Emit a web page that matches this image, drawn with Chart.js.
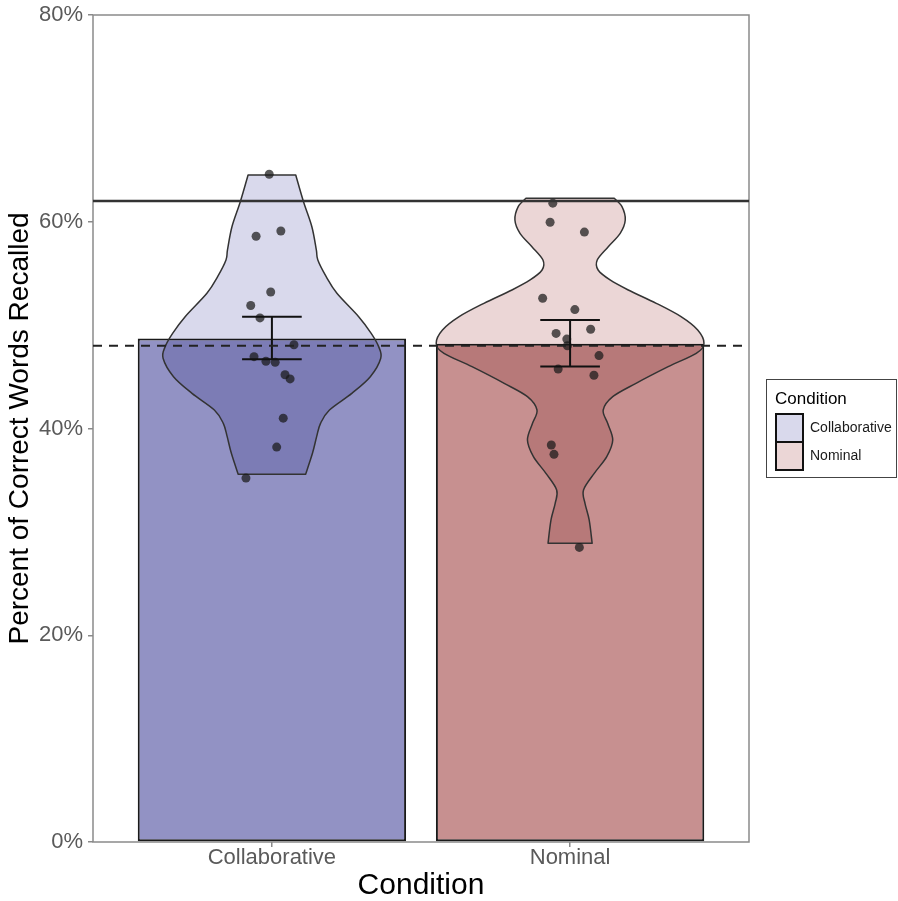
<!DOCTYPE html>
<html>
<head>
<meta charset="utf-8">
<script src="https://cdn.jsdelivr.net/npm/chart.js@4.4.1/dist/chart.umd.min.js"></script>
<style>
  html, body { margin: 0; padding: 0; background: #ffffff; }
  #wrap { width: 898px; height: 901px; }
</style>
</head>
<body>
<div id="wrap"><canvas id="recallChart" width="898" height="901"></canvas></div>
<script>
// ---- data ----
const categories = ['Collaborative', 'Nominal'];
const categoryPos = [1, 2];
const meanRecall = [48.7, 48.2];
const seLow = [46.7, 46.0];
const seHigh = [50.8, 50.5];
const yTicks = [0, 20, 40, 60, 80];
const solidLineValue = 62;
const dashedLineValue = 48;

// individual participants (percent recalled) and their horizontal jitter
const collabScores = [64.6, 58.6, 59.1, 53.2, 51.9, 50.7, 48.1, 46.95, 46.5, 46.4, 45.2, 44.8, 41.0, 38.2, 35.2];
const collabJitter = [-0.009, -0.053, 0.030, -0.004, -0.071, -0.040, 0.074, -0.060, -0.020, 0.011, 0.044, 0.061, 0.038, 0.016, -0.087];
const nominalScores = [61.8, 59.95, 59.0, 52.6, 51.5, 49.2, 49.6, 48.65, 48.0, 47.05, 45.75, 45.15, 38.4, 37.5, 28.5];
const nominalJitter = [-0.058, -0.067, 0.048, -0.092, 0.016, -0.047, 0.069, -0.011, -0.009, 0.097, -0.040, 0.080, -0.063, -0.054, 0.031];

// violin outlines: recall level and half-width (in category units)
const collabViolinY = [64.52, 61.94, 59.52, 57.27, 56.30, 54.69, 53.08, 50.82, 49.21, 47.92, 46.79, 45.01, 43.40, 41.79, 40.50, 39.21, 37.60, 35.57];
const collabViolinHalf = [0.080, 0.106, 0.134, 0.149, 0.154, 0.182, 0.218, 0.291, 0.333, 0.358, 0.365, 0.330, 0.268, 0.193, 0.163, 0.150, 0.136, 0.113];
const nominalViolinY = [62.27, 61.46, 60.17, 58.88, 57.59, 56.30, 55.33, 54.37, 53.40, 52.11, 50.82, 49.53, 48.24, 47.27, 45.98, 44.37, 43.08, 41.79, 40.50, 38.89, 37.28, 35.66, 34.05, 32.76, 31.15, 28.89];
const nominalViolinHalf = [0.148, 0.174, 0.185, 0.168, 0.128, 0.091, 0.094, 0.134, 0.195, 0.289, 0.372, 0.428, 0.449, 0.423, 0.329, 0.221, 0.143, 0.111, 0.126, 0.143, 0.123, 0.081, 0.045, 0.050, 0.064, 0.074];

// ---- styling ----
const barColors = ['#9292C4', '#C79090'];
const violinColors = ['#D9D9EC', '#EBD6D6'];
const FONT = '"Liberation Sans", Arial, Helvetica, sans-serif';
const X_MIN = 0.4, X_MAX = 2.6;
const ERR_HALF = 0.1;

const violins = [
  { center: categoryPos[0], ys: collabViolinY, half: collabViolinHalf, fill: violinColors[0] },
  { center: categoryPos[1], ys: nominalViolinY, half: nominalViolinHalf, fill: violinColors[1] }
];

// error bar segments (null breaks the line between pieces)
const errorBarData = [];
categoryPos.forEach((c, i) => {
  errorBarData.push({ x: c - ERR_HALF, y: seHigh[i] }, { x: c + ERR_HALF, y: seHigh[i] }, { x: c, y: null });
  errorBarData.push({ x: c, y: seHigh[i] }, { x: c, y: seLow[i] }, { x: c, y: null });
  errorBarData.push({ x: c - ERR_HALF, y: seLow[i] }, { x: c + ERR_HALF, y: seLow[i] }, { x: c, y: null });
});

// smooth curve through a list of pixel points (Catmull-Rom as Bezier)
function splineThrough(ctx, pts) {
  for (let i = 0; i < pts.length - 1; i++) {
    const p0 = pts[Math.max(i - 1, 0)];
    const p1 = pts[i];
    const p2 = pts[i + 1];
    const p3 = pts[Math.min(i + 2, pts.length - 1)];
    const c1x = p1.x + (p2.x - p0.x) / 6, c1y = p1.y + (p2.y - p0.y) / 6;
    const c2x = p2.x - (p3.x - p1.x) / 6, c2y = p2.y - (p3.y - p1.y) / 6;
    ctx.bezierCurveTo(c1x, c1y, c2x, c2y, p2.x, p2.y);
  }
}

const backgroundPlugin = {
  id: 'background',
  beforeDraw(chart) {
    const { ctx, width, height } = chart;
    ctx.save();
    ctx.fillStyle = '#ffffff';
    ctx.fillRect(0, 0, width, height);
    ctx.restore();
  }
};

const panelFramePlugin = {
  id: 'panelFrame',
  beforeDatasetsDraw(chart) {
    const { ctx, chartArea: a } = chart;
    ctx.save();
    ctx.strokeStyle = '#8a8a8a';
    ctx.lineWidth = 1.5;
    ctx.strokeRect(a.left, a.top, a.right - a.left, a.bottom - a.top);
    ctx.restore();
  }
};

const violinPlugin = {
  id: 'violins',
  afterDatasetDraw(chart, args) {
    if (args.index !== 0) return;
    const { ctx, chartArea: a, scales: { x, y } } = chart;
    ctx.save();
    ctx.beginPath();
    ctx.rect(a.left, a.top, a.right - a.left, a.bottom - a.top);
    ctx.clip();
    violins.forEach(v => {
      const right = v.ys.map((yy, i) => ({ x: x.getPixelForValue(v.center + v.half[i]), y: y.getPixelForValue(yy) }));
      const left = v.ys.map((yy, i) => ({ x: x.getPixelForValue(v.center - v.half[i]), y: y.getPixelForValue(yy) })).reverse();
      ctx.beginPath();
      ctx.moveTo(right[0].x, right[0].y);
      splineThrough(ctx, right);
      ctx.lineTo(left[0].x, left[0].y);
      splineThrough(ctx, left);
      ctx.closePath();
      ctx.globalCompositeOperation = 'multiply';
      ctx.fillStyle = v.fill;
      ctx.fill();
      ctx.globalCompositeOperation = 'source-over';
      ctx.strokeStyle = '#333333';
      ctx.lineWidth = 1.5;
      ctx.lineJoin = 'round';
      ctx.stroke();
    });
    ctx.restore();
  }
};

const legendPlugin = {
  id: 'conditionLegend',
  afterDraw(chart) {
    const { ctx, chartArea: a } = chart;
    const left = a.right + 17, top = a.top + 364;
    ctx.save();
    ctx.strokeStyle = '#444444';
    ctx.lineWidth = 1;
    ctx.strokeRect(left + 0.5, top + 0.5, 130, 98);
    ctx.fillStyle = '#000000';
    ctx.textBaseline = 'middle';
    ctx.textAlign = 'left';
    ctx.font = '17px ' + FONT;
    ctx.fillText('Condition', left + 9, top + 20);
    ctx.font = '14px ' + FONT;
    categories.forEach((name, i) => {
      const ky = top + 35 + i * 28;
      ctx.fillStyle = violinColors[i];
      ctx.fillRect(left + 10, ky, 27, 28);
      ctx.strokeStyle = '#111111';
      ctx.lineWidth = 2;
      ctx.strokeRect(left + 10, ky, 27, 28);
      ctx.fillStyle = '#1a1a1a';
      ctx.fillText(name, left + 44, ky + 14);
    });
    ctx.restore();
  }
};

new Chart(document.getElementById('recallChart'), {
  data: {
    datasets: [
      {
        type: 'bar',
        label: 'Mean recall',
        data: categoryPos.map((c, i) => ({ x: c, y: meanRecall[i] })),
        backgroundColor: barColors,
        borderColor: '#1a1a1a',
        borderWidth: 2,
        borderSkipped: false,
        categoryPercentage: 0.9,
        barPercentage: 1,
        order: 10
      },
      {
        type: 'scatter',
        label: 'Collaborative participants',
        data: collabScores.map((v, i) => ({ x: categoryPos[0] + collabJitter[i], y: v })),
        backgroundColor: 'rgba(25,25,25,0.72)',
        borderWidth: 0,
        pointRadius: 4.5,
        order: 4
      },
      {
        type: 'scatter',
        label: 'Nominal participants',
        data: nominalScores.map((v, i) => ({ x: categoryPos[1] + nominalJitter[i], y: v })),
        backgroundColor: 'rgba(25,25,25,0.72)',
        borderWidth: 0,
        pointRadius: 4.5,
        order: 3
      },
      {
        type: 'line',
        label: 'Standard error',
        data: errorBarData,
        borderColor: '#111111',
        borderWidth: 2,
        pointRadius: 0,
        spanGaps: false,
        order: 2
      },
      {
        type: 'line',
        label: 'Upper reference',
        data: [{ x: X_MIN, y: solidLineValue }, { x: X_MAX, y: solidLineValue }],
        borderColor: '#333333',
        borderWidth: 2.5,
        pointRadius: 0,
        order: 1
      },
      {
        type: 'line',
        label: 'Lower reference',
        data: [{ x: X_MIN, y: dashedLineValue }, { x: X_MAX, y: dashedLineValue }],
        borderColor: '#222222',
        borderWidth: 2,
        borderDash: [9, 7],
        pointRadius: 0,
        order: 0
      }
    ]
  },
  options: {
    responsive: false,
    devicePixelRatio: 1,
    animation: false,
    events: [],
    layout: { padding: { left: 0, right: 149, top: 15, bottom: 0 } },
    plugins: { legend: { display: false }, tooltip: { enabled: false } },
    scales: {
      x: {
        type: 'linear',
        min: X_MIN,
        max: X_MAX,
        offset: false,
        afterBuildTicks: s => { s.ticks = categoryPos.map(v => ({ value: v })); },
        afterFit: s => { s.height = 59; },
        ticks: {
          autoSkip: false,
          maxRotation: 0,
          padding: 0,
          color: '#5a5a5a',
          font: { family: FONT, size: 22, lineHeight: 1.0 },
          callback: v => categories[categoryPos.indexOf(v)]
        },
        grid: { display: true, offset: false, drawOnChartArea: false, drawTicks: true, tickLength: 5, color: '#8a8a8a', lineWidth: 1.5 },
        border: { display: false },
        title: {
          display: true,
          text: 'Condition',
          color: '#000000',
          padding: 0,
          font: { family: FONT, size: 30, lineHeight: 1.0 }
        }
      },
      y: {
        type: 'linear',
        min: 0,
        max: 80,
        afterBuildTicks: s => { s.ticks = yTicks.map(v => ({ value: v })); },
        afterFit: s => { s.width = 93; },
        ticks: {
          padding: 5,
          color: '#5a5a5a',
          font: { family: FONT, size: 22, lineHeight: 0.8 },
          callback: v => v + '%'
        },
        grid: { display: true, drawOnChartArea: false, drawTicks: true, tickLength: 5, color: '#8a8a8a', lineWidth: 1.5 },
        border: { display: false },
        title: {
          display: true,
          text: 'Percent of Correct Words Recalled',
          color: '#000000',
          padding: { top: 3.5, bottom: 0 },
          font: { family: FONT, size: 28 }
        }
      }
    }
  },
  plugins: [backgroundPlugin, panelFramePlugin, violinPlugin, legendPlugin]
});
</script>
</body>
</html>
